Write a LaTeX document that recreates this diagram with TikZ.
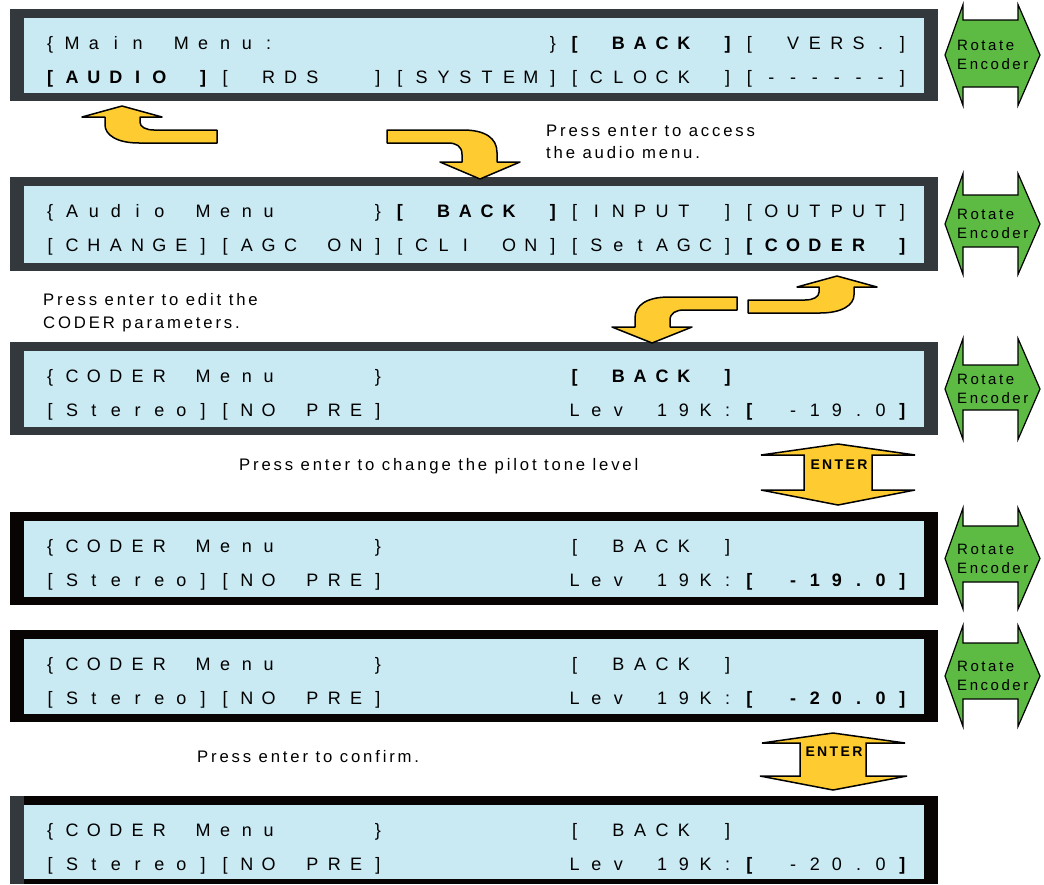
\documentclass[tikz,border=0pt]{standalone}
\usepackage{fontspec}
\setmainfont{Liberation Sans}
\newfontfamily\notefont{Liberation Sans}[LetterSpace=17]
\usepackage{xcolor}
\usetikzlibrary{positioning}
\definecolor{lcdgray}{RGB}{51,56,60}
\definecolor{lcdblack}{RGB}{8,4,4}
\definecolor{lcdblue}{RGB}{201,233,243}
\definecolor{knobgreen}{RGB}{93,187,68}
\definecolor{enteryellow}{RGB}{254,204,48}
\tikzset{
  lcd/.style={anchor=base west, inner sep=0pt, font=\fontsize{18}{20}\selectfont},
  note/.style={anchor=base west, inner sep=0pt, align=left, font=\notefont\fontsize{16.7}{22.5}\selectfont},
  bentarrow/.style={draw=black, fill=enteryellow, line width=1.5pt, line join=round},
  enterarrow/.style={draw=black, fill=enteryellow, line width=1.5pt, line join=miter},
  entertext/.style={anchor=base, inner sep=0pt, font=\notefont\bfseries\fontsize{14}{16}\selectfont},
  encoder/.style={draw=black, fill=knobgreen, line width=1.2pt, line join=miter},
  enctext/.style={anchor=west, inner sep=0pt, align=left, font=\notefont\fontsize{15}{19}\selectfont},
}
% one LCD character per cell, _ is a blank cell
\newlength\lcdpitch
\setlength\lcdpitch{21.85pt}
\def\lcdend{lcdend}
\newcommand\lcdcell[1]{\ifx#1_\hbox to\lcdpitch{\hfil}\else\hbox to\lcdpitch{\hss#1\hss}\fi}
\def\lcdloop#1{%
  \ifx#1\lcdend\else
    \ifx#1\bfseries\bfseries\else
    \ifx#1\mdseries\mdseries\else
    \lcdcell{#1}\fi\fi
  \expandafter\lcdloop\fi}
\newcommand\lcdline[1]{\lcdloop#1\lcdend}
% bent arrow: tip, xscale, yscale, tail length, body depth, head height
\newcommand\bentarrow[6]{%
  \begin{scope}[shift={#1}, xscale=#2, yscale=#3]
    \filldraw[bentarrow] (-#4,-#5) -- (-17,-#5)
      .. controls (5,-#5) and (17,{-#5+8}) .. (17,{-#6-(#5-#6)*0.3})
      -- (17,-#6) -- (40,-#6) -- (0,0) -- (-40,-#6) -- (-18,-#6)
      -- (-18,{-#6-(#5-13-#6)*0.4})
      .. controls (-18,{-#5+16}) and (-24,{-#5+13}) .. (-32,{-#5+13})
      -- (-#4,{-#5+13}) -- cycle;
  \end{scope}}

\begin{document}
\begin{tikzpicture}[x=1pt, y=-1pt]
\useasboundingbox (0,0) rectangle (1044,884);
\fill[white] (0,0) rectangle (1044,884);
% LCD panels
\foreach \yt/\yb/\yi/\fc in {9/101/92.5/lcdgray, 177/271/262.5/lcdgray,
    342/435/426.5/lcdgray, 512/605/596.5/lcdblack, 630/722/713.5/lcdblack,
    796/884/879/lcdblack}
{
  \fill[\fc] (10,\yt) rectangle (938,\yb);
  \fill[lcdblue] (24,\yt+8.5) rectangle (924,\yi);
}
\fill[lcdgray] (10,796) rectangle (24,884);
% Display texts
\node[lcd] (mainA) at (39.1,49.5) {\lcdline{\{Main_Menu:____________\}\bfseries[_BACK_]\mdseries[_VERS.]}};
\node[lcd] (mainB) at (39.1,83.3) {\lcdline{\bfseries[AUDIO_]\mdseries[_RDS__][SYSTEM][CLOCK_][------]}};
\node[lcd] (audioA) at (39.1,217.5) {\lcdline{\{Audio_Menu____\}\bfseries[_BACK_]\mdseries[INPUT_][OUTPUT]}};
\node[lcd] (audioB) at (39.1,251.3) {\lcdline{[CHANGE][AGC_ON][CLI_ON][SetAGC]\bfseries[CODER_]}};
\node[lcd] (coderA) at (39.1,382.5) {\lcdline{\{CODER_Menu____\}________\bfseries[_BACK_]}};
\node[lcd] (coderB) at (39.1,416.3) {\lcdline{[Stereo][NO_PRE]________Lev_19K:\bfseries[\mdseries_-19.0\bfseries]}};
\node[lcd] (editA) at (39.1,552.5) {\lcdline{\{CODER_Menu____\}________[_BACK_]}};
\node[lcd] (editB) at (39.1,586.3) {\lcdline{[Stereo][NO_PRE]________Lev_19K:\bfseries[_-19.0]}};
\node[lcd] (turnA) at (39.1,670.5) {\lcdline{\{CODER_Menu____\}________[_BACK_]}};
\node[lcd] (turnB) at (39.1,704.3) {\lcdline{[Stereo][NO_PRE]________Lev_19K:\bfseries[_-20.0]}};
\node[lcd] (doneA) at (39.1,836.5) {\lcdline{\{CODER_Menu____\}________[_BACK_]}};
\node[lcd] (doneB) at (39.1,870.3) {\lcdline{[Stereo][NO_PRE]________Lev_19K:\bfseries[\mdseries_-20.0\bfseries]}};
% Rotate encoder arrows
\foreach \cy/\st/\sb [count=\k] in {55/20/87, 224/195/247, 389/365/410, 558.5/526/582, 676/643/699}
{
  \filldraw[encoder] (945,\cy) -- (963,\cy-50.5) -- (963,\st) -- (1018,\st)
    -- (1018,\cy-50.5) -- (1040,\cy) -- (1018,\cy+50.5) -- (1018,\sb)
    -- (963,\sb) -- (963,\cy+50.5) -- cycle;
  \node[enctext] (enc\k) at (957,\cy) {Rotate\\Encoder};
}
% Yellow bent arrows
\bentarrow{(122,106)}{-1}{-1}{95}{37}{11}
\bentarrow{(480,179)}{1}{1}{93}{49}{17}
\bentarrow{(652,343)}{-1}{1}{85}{46}{16}
\bentarrow{(837,276)}{1}{-1}{89}{37}{11}
% Enter arrows
\filldraw[enterarrow] (838,444) -- (915,455) -- (872,455) -- (872,490) -- (915,490)
  -- (838,505) -- (761,490) -- (804,490) -- (804,455) -- (761,455) -- cycle;
\node[entertext] (enterA) at (839,469.5) {ENTER};
\filldraw[enterarrow] (833,733) -- (905,743) -- (866,743) -- (866,776) -- (907,776)
  -- (833,790) -- (760,776) -- (800,776) -- (800,743) -- (762,743) -- cycle;
\node[entertext] (enterB) at (834,756) {ENTER};
% Notes (base is the last line)
\node[note] (accessnote) at (546,158.5) {Press enter to access\\the audio menu.};
\node[note] (codernote) at (43,328) {Press enter to edit the\\CODER parameters.};
\node[note] (pilotnote) at (239,470) {Press enter to change the pilot tone level};
\node[note] (confirmnote) at (197,762.5) {Press enter to confirm.};
\end{tikzpicture}
\end{document}
